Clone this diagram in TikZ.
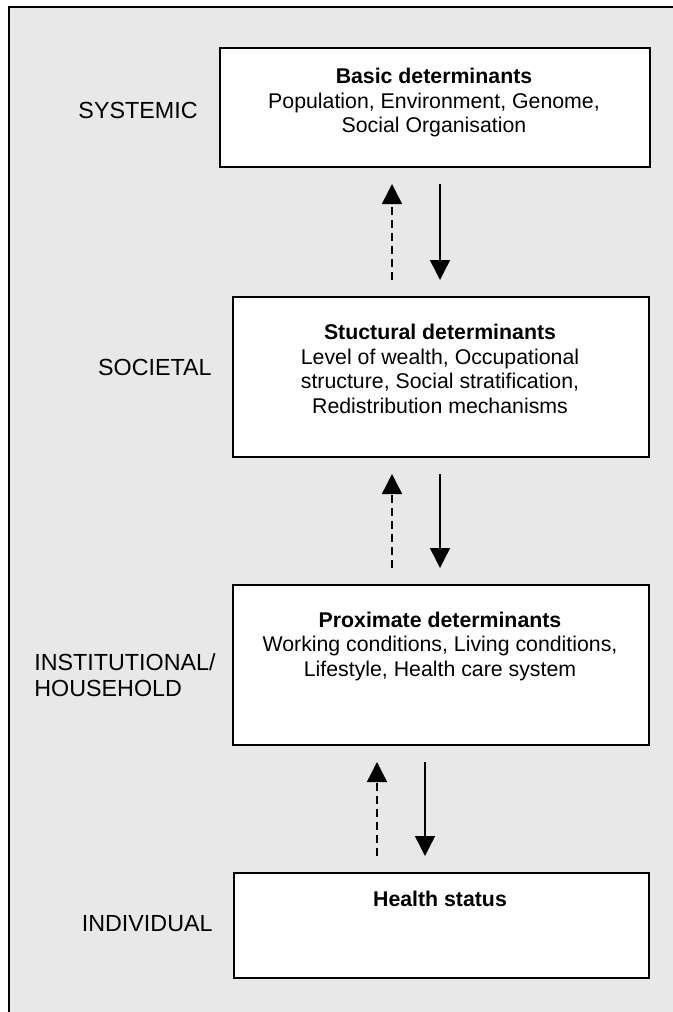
\documentclass[tikz,border=0pt]{standalone}
\usepackage{fontspec}
\setmainfont{Liberation Sans}
\usetikzlibrary{arrows.meta}
\definecolor{panel}{RGB}{232,232,232}
\tikzset{
  tier/.style={draw=black, line width=1pt, fill=white, inner sep=0pt, anchor=north west},
  boxtext/.style={align=center, font=\fontsize{10.65}{12.25}\selectfont, inner sep=0pt},
  level/.style={anchor=east, align=left, font=\fontsize{11.65}{13.2}\selectfont, inner sep=0pt},
  down/.style={line width=0.7pt, -{Triangle[length=10pt,width=10pt]}, shorten <=8pt, shorten >=8pt},
  up/.style={down, dash pattern=on 4pt off 2.5pt},
}
\begin{document}
\begin{tikzpicture}[x=0.5pt, y=-0.5pt]
  \useasboundingbox (0,0) rectangle (673,1012);
  \fill[white] (0,0) rectangle (673,1012);
  \clip (0,0) rectangle (673,1012);
  % grey panel, open at the right and bottom
  \draw[line width=1.2pt, fill=panel] (9,7) rectangle (700,1040);

  % tiers
  \node[tier, minimum width=215pt, minimum height=59.5pt] (b1) at (219,47) {};
  \node[tier, minimum width=208pt, minimum height=80pt] (b2) at (232,296) {};
  \node[tier, minimum width=208pt, minimum height=80pt] (b3) at (232,584) {};
  \node[tier, minimum width=207.5pt, minimum height=52.5pt] (b4) at (233,872) {};

  \node[boxtext] (t1) at (434,102.5) {\textbf{Basic determinants}\\Population, Environment, Genome,\\Social Organisation};
  \node[boxtext] (t2) at (440,369) {\textbf{Stuctural determinants}\\Level of wealth, Occupational\\structure, Social stratification,\\Redistribution mechanisms};
  \node[boxtext] (t3) at (440,646) {\textbf{Proximate determinants}\\Working conditions, Living conditions,\\Lifestyle, Health care system};
  \node[boxtext] (t4) at (440,899) {\textbf{Health status}};

  % level labels
  \node[level] (l1) at (198,110) {SYSTEMIC};
  \node[level] (l2) at (212,367) {SOCIETAL};
  \node[level] (l3) at (216,675) {INSTITUTIONAL/\\HOUSEHOLD};
  \node[level] (l4) at (213,924) {INDIVIDUAL};

  % arrow columns
  \coordinate (ua) at (392,0);
  \coordinate (da) at (440,0);
  \coordinate (ub) at (377,0);
  \coordinate (db) at (425,0);

  \draw[up]   (ua |- b2.north) -- (ua |- b1.south);
  \draw[down] (da |- b1.south) -- (da |- b2.north);
  \draw[up]   (ua |- b3.north) -- (ua |- b2.south);
  \draw[down] (da |- b2.south) -- (da |- b3.north);
  \draw[up]   (ub |- b4.north) -- (ub |- b3.south);
  \draw[down] (db |- b3.south) -- (db |- b4.north);
\end{tikzpicture}
\end{document}
